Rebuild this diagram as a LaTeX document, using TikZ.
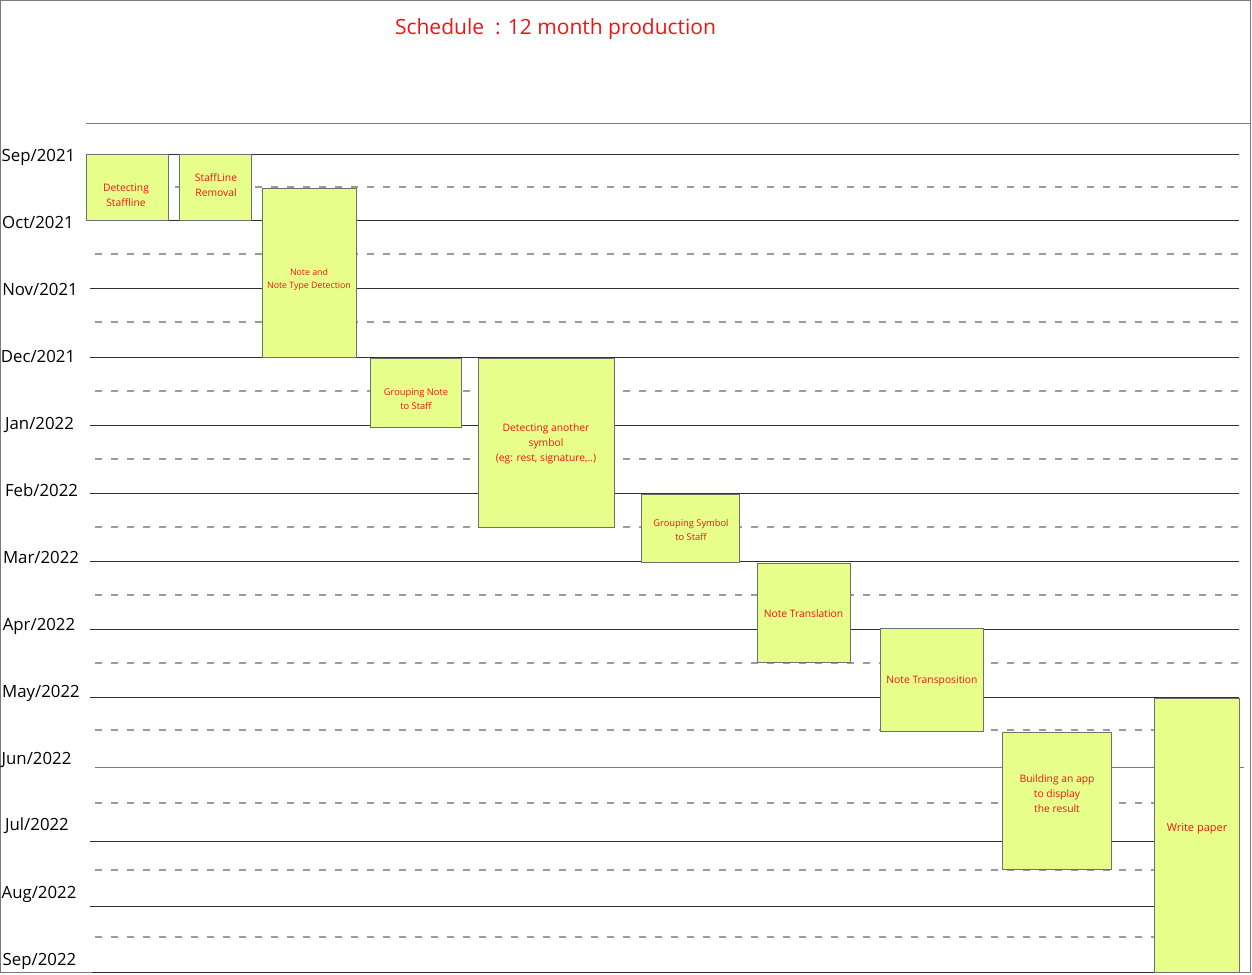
\documentclass[tikz,border=0pt]{standalone}
\usepackage{fontspec}
\setmainfont{Open Sans}
\definecolor{boxfill}{HTML}{E8FE8A}
\definecolor{boxgray}{HTML}{707070}
\definecolor{linedark}{HTML}{303030}
\definecolor{dashgray}{HTML}{9A9A9A}
\definecolor{framegray}{HTML}{7A7A7A}
\definecolor{titlered}{HTML}{F01414}
\begin{document}
\begin{tikzpicture}[x=1pt,y=-1pt,
  monthline/.style={draw=linedark, line width=1pt},
  halfline/.style={draw=dashgray, line width=1.2pt, dash pattern=on 6.5pt off 9.5pt},
  taskbox/.style={draw=boxgray, fill=boxfill, line width=1pt, inner sep=0pt},
  tasktext/.style={text=titlered, align=center, inner sep=0pt, font=\fontsize{10.3}{15}\selectfont},
  smalltext/.style={text=titlered, align=center, inner sep=0pt, font=\fontsize{9.3}{14}\selectfont},
  mlabel/.style={anchor=base, inner sep=0pt, font=\fontsize{16.8}{20}\selectfont}]
\useasboundingbox (0,0) rectangle (1252,974);
% frame
\draw[framegray, line width=1.2pt] (0.8,0.6) rectangle (1250.4,972.8);
% title
\node[anchor=base, text=titlered, font=\fontsize{21}{26}\selectfont] (title) at (555.5,35) {Schedule \ : 12 month production};
% header rule
\draw[framegray, line width=1pt] (86,123) -- (1250,123);
% month lines
\foreach \y in {154,220,288,357,425,493,561,629,697,841,906}
  \draw[monthline] (90,\y) -- (1239,\y);
\draw[monthline, draw=framegray] (95,767) -- (1244,767);
\draw[monthline] (92,972) -- (1239,972);
% half-month dashed lines
\foreach \y in {187,254,322,391,459,527,595,663,730,803,870,937}
  \draw[halfline] (95,\y) -- (1239,\y);
% month labels
\node[mlabel] (m1) at (38.5,161.5) {Sep/2021};
\node[mlabel] (m2) at (38,228) {Oct/2021};
\node[mlabel] (m3) at (40,295) {Nov/2021};
\node[mlabel] (m4) at (38,362) {Dec/2021};
\node[mlabel] (m5) at (39.5,429) {Jan/2022};
\node[mlabel] (m6) at (41.5,496) {Feb/2022};
\node[mlabel] (m7) at (41,563) {Mar/2022};
\node[mlabel] (m8) at (39,630.5) {Apr/2022};
\node[mlabel] (m9) at (41,697) {May/2022};
\node[mlabel] (m10) at (36.5,764) {Jun/2022};
\node[mlabel] (m11) at (37,830.5) {Jul/2022};
\node[mlabel] (m12) at (39,898) {Aug/2022};
\node[mlabel] (m13) at (39.5,965) {Sep/2022};
% task boxes
\node[taskbox, minimum width=82pt, minimum height=66pt] (b1) at (127,187) {};
\node[taskbox, minimum width=72pt, minimum height=66pt] (b2) at (215,187) {};
\node[taskbox, minimum width=94pt, minimum height=169pt] (b3) at (309,272.5) {};
\node[taskbox, minimum width=91pt, minimum height=69pt] (b4) at (415.5,392.5) {};
\node[taskbox, minimum width=136pt, minimum height=169pt] (b5) at (546,442.5) {};
\node[taskbox, minimum width=98pt, minimum height=68pt] (b6) at (690,528) {};
\node[taskbox, minimum width=93pt, minimum height=99pt] (b7) at (803.5,612.5) {};
\node[taskbox, minimum width=103pt, minimum height=103pt] (b8) at (931.5,679.5) {};
\node[taskbox, minimum width=109pt, minimum height=137pt] (b9) at (1056.5,800.5) {};
\node[taskbox, minimum width=85pt, minimum height=274pt] (b10) at (1196.5,835) {};
% task texts
\node[tasktext] (t1) at (126,195.5) {Detecting\\Staffline};
\node[tasktext] (t2) at (216,185.5) {StaffLine\\ Removal};
\node[text=titlered, align=center, inner sep=0pt, font=\fontsize{8.8}{13}\selectfont] (t3) at (309,279.5) {Note and\\Note Type Detection};
\node[smalltext] (t4) at (416,399.5) {Grouping Note\\to Staff};
\node[tasktext] (t5) at (546,444) {Detecting another\\symbol\\(eg: rest, signature,..)};
\node[smalltext] (t6) at (691,530) {Grouping Symbol\\to Staff};
\node[tasktext] (t7) at (803.5,614) {Note Translation};
\node[tasktext] (t8) at (932,681) {Note Transposition};
\node[tasktext] (t9) at (1057,794) {Building an app\\to display\\the result};
\node[tasktext, font=\fontsize{11}{15}\selectfont] (t10) at (1197,829) {Write paper};
\end{tikzpicture}
\end{document}
